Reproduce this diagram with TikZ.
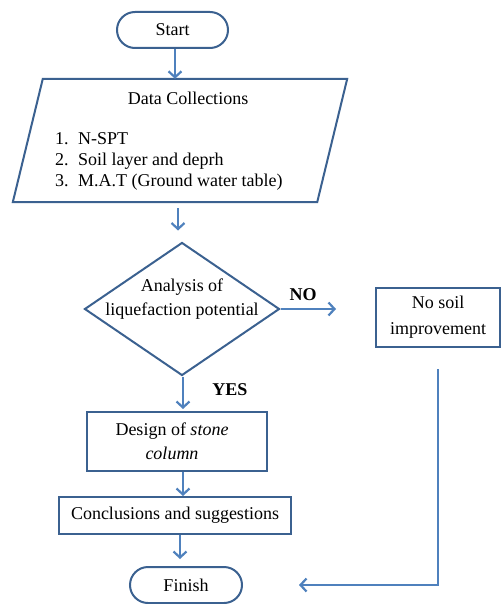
\documentclass[tikz,border=0pt]{standalone}
\usepackage{fontspec}
\setmainfont{Liberation Serif}
\usepackage{tikz}
\usetikzlibrary{arrows.meta,shapes.geometric}
\definecolor{boxblue}{HTML}{3B6190}
\definecolor{arrblue}{HTML}{4F81BD}
\tikzset{>={Straight Barb[length=6pt,width=13pt]}}
\tikzset{
  box/.style={draw=boxblue, line width=2pt, rectangle, inner sep=0pt},
  term/.style={box, rounded corners=18pt},
  txt/.style={inner sep=0pt, align=center},
  arr/.style={->, draw=arrblue, line width=2.2pt}
}

\begin{document}
\begin{tikzpicture}[x=1pt, y=-1pt]

  \fontsize{18}{21}\selectfont

  %% <spacing>
  \useasboundingbox (0,0) rectangle (501,604);
  % </spacing>

  \node[term, minimum width=111pt, minimum height=36pt] (start) at (172.5,30) {Start};

  \node[inner sep=0pt, minimum width=304pt, minimum height=123pt] (data) at (180,140.5) {};
  \draw[box] ([xshift=-15pt]data.south west) -- ([xshift=15pt]data.north west)
     -- ([xshift=15pt]data.north east) -- ([xshift=-15pt]data.south east) -- cycle; %% slanted box
  \node[txt] (datatitle) at (188,98) {Data Collections};
  \node[txt, anchor=west, align=left] (dataitems) at (55,161)
    {\makebox[23pt][l]{1.}N-SPT\\
     \makebox[23pt][l]{2.}Soil layer and deprh\\
     \makebox[23pt][l]{3.}M.A.T (Ground water table)};

  \node[box, diamond, minimum width=195pt, minimum height=133pt] (ana) at (182,309) {};
  \node[txt] (anatext) at (182,299) {Analysis of\\[3pt]liquefaction potential};

  \node[box, minimum width=124pt, minimum height=59pt] (noimp) at (438,317.5) {};
  \node[txt] (noimptext) at (438,317) {No soil\\[5pt]improvement};

  \node[box, minimum width=180pt, minimum height=59pt] (design) at (177,441.5) {};
  \node[txt] (designtext) at (172,441) {Design of \textit{stone}\\[3pt]\textit{column}};

  \node[box, minimum width=232pt, minimum height=37pt] (concl) at (175,515.5) {Conclusions and suggestions};

  \node[term, minimum width=112pt, minimum height=36pt] (finish) at (186,585) {Finish};

  \node[txt] (nolabel) at (303,295) {\textbf{NO}};
  \node[txt] (yeslabel) at (230,390) {\textbf{YES}};

  \draw[arr] (start.south -| 175,0) -- (data.north -| 175,0); %% start->data
  \draw[arr, shorten <=6pt, shorten >=11pt] (data.south -| 178,0) -- (ana.north -| 178,0); %% data->ana
  \draw[arr, shorten >=2pt] (ana.south -| 183,0) -- (design.north -| 183,0); %% ana->design (YES)
  \draw[arr] (design.south -| 183,0) -- (concl.north -| 183,0); %% design->concl
  \draw[arr, shorten >=7pt] (concl.south -| 180,0) -- (finish.north -| 180,0); %% concl->finish

  \draw[arr, shorten >=39pt] (ana.east) -- (ana.east -| noimp.west); %% ana->noimp (NO)
  \draw[arr, shorten <=21pt, shorten >=56pt] (noimp.south) |- (finish.east); %% noimp->finish

\end{tikzpicture}
\end{document}
